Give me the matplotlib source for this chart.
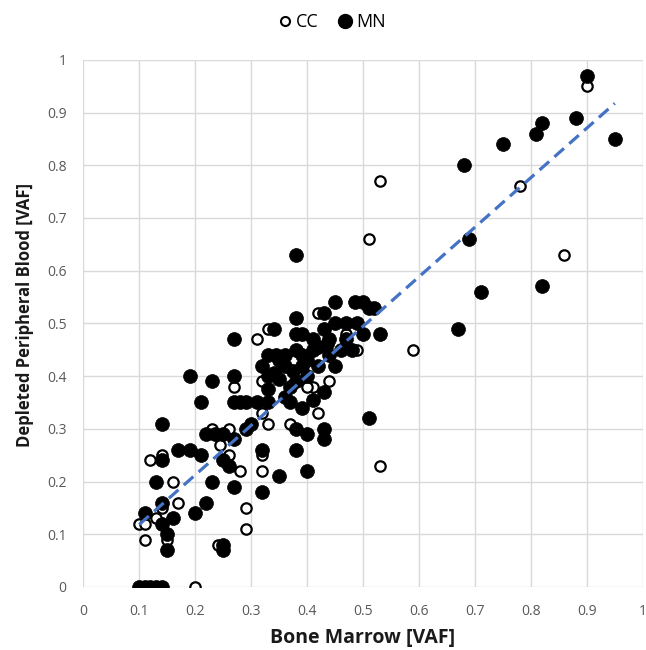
import numpy as np
import matplotlib
matplotlib.use("Agg")
import matplotlib.pyplot as plt
from matplotlib.lines import Line2D

plt.rcParams['font.family'] = ['Open Sans', 'DejaVu Sans']

# CC series (open markers)
cc_x = [0.10, 0.11, 0.11, 0.13, 0.12, 0.14, 0.14, 0.15, 0.16, 0.17, 0.20, 0.24,
        0.23, 0.26, 0.245, 0.26, 0.28, 0.29, 0.29, 0.27, 0.31, 0.32, 0.32, 0.33,
        0.32, 0.32, 0.33, 0.37, 0.41, 0.44, 0.42, 0.42, 0.47, 0.49, 0.40, 0.51,
        0.53, 0.53, 0.59, 0.78, 0.86, 0.90]
cc_y = [0.12, 0.12, 0.09, 0.13, 0.24, 0.25, 0.15, 0.09, 0.20, 0.16, 0.00, 0.08,
        0.30, 0.30, 0.27, 0.25, 0.22, 0.15, 0.11, 0.38, 0.47, 0.39, 0.33, 0.31,
        0.25, 0.22, 0.49, 0.31, 0.38, 0.39, 0.33, 0.52, 0.48, 0.45, 0.38, 0.66,
        0.77, 0.23, 0.45, 0.76, 0.63, 0.95]

# MN series (filled markers)
mn_x = [0.10, 0.11, 0.12, 0.13, 0.14,
        0.15, 0.15, 0.14, 0.16, 0.11, 0.14, 0.20, 0.22, 0.13, 0.23, 0.27, 0.25, 0.25,
        0.14, 0.14, 0.17, 0.19, 0.21, 0.25, 0.26, 0.22, 0.235, 0.25, 0.27, 0.29, 0.30,
        0.21, 0.19, 0.23, 0.27, 0.27, 0.27, 0.28, 0.29, 0.31, 0.33, 0.36, 0.37, 0.39,
        0.41, 0.32, 0.32, 0.35, 0.38, 0.40, 0.38, 0.40, 0.43, 0.43, 0.43, 0.51,
        0.32, 0.34, 0.35, 0.33, 0.345, 0.36, 0.375, 0.38, 0.37, 0.38, 0.39, 0.33,
        0.34, 0.38, 0.38, 0.39, 0.38, 0.33, 0.35, 0.36, 0.39, 0.40,
        0.42, 0.42, 0.435, 0.43, 0.43, 0.45, 0.47, 0.49, 0.50, 0.46, 0.48, 0.45,
        0.45, 0.485, 0.50, 0.51, 0.52, 0.53, 0.44, 0.41, 0.40, 0.41, 0.44, 0.47,
        0.67, 0.68, 0.69, 0.71, 0.75, 0.81, 0.82, 0.82, 0.88, 0.90, 0.95]
mn_y = [0.00, 0.00, 0.00, 0.00, 0.00,
        0.07, 0.10, 0.12, 0.13, 0.14, 0.16, 0.14, 0.16, 0.20, 0.20, 0.19, 0.08, 0.07,
        0.24, 0.31, 0.26, 0.26, 0.25, 0.24, 0.23, 0.29, 0.29, 0.29, 0.28, 0.30, 0.31,
        0.35, 0.40, 0.39, 0.40, 0.47, 0.35, 0.35, 0.35, 0.35, 0.35, 0.36, 0.35, 0.34,
        0.355, 0.26, 0.18, 0.21, 0.26, 0.22, 0.30, 0.29, 0.30, 0.28, 0.37, 0.32,
        0.42, 0.405, 0.395, 0.44, 0.44, 0.44, 0.41, 0.39, 0.38, 0.45, 0.44, 0.375,
        0.49, 0.48, 0.51, 0.48, 0.63, 0.40, 0.43, 0.42, 0.42, 0.40,
        0.42, 0.455, 0.46, 0.49, 0.52, 0.50, 0.50, 0.50, 0.48, 0.45, 0.45, 0.42,
        0.54, 0.54, 0.54, 0.53, 0.53, 0.48, 0.47, 0.47, 0.43, 0.45, 0.44, 0.47,
        0.49, 0.80, 0.66, 0.56, 0.84, 0.86, 0.88, 0.57, 0.89, 0.97, 0.85]

ticks = [0, 0.1, 0.2, 0.3, 0.4, 0.5, 0.6, 0.7, 0.8, 0.9, 1]
tick_labels = ["0", "0.1", "0.2", "0.3", "0.4", "0.5", "0.6", "0.7", "0.8", "0.9", "1"]

fig = plt.figure(figsize=(6.46, 6.50), dpi=100)
ax = fig.add_axes([0.129, 0.097, 0.866, 0.811])

ax.scatter(cc_x, cc_y, s=56, facecolor='white', edgecolor='black', linewidth=1.6, zorder=3)
ax.scatter(mn_x, mn_y, s=100, facecolor='black', edgecolor='black', linewidth=0.5, zorder=4)

# linear trendline over all points
all_x = np.array(cc_x + mn_x)
all_y = np.array(cc_y + mn_y)
k, b = np.polyfit(all_x, all_y, 1)
tx = np.array([all_x.min(), all_x.max()])
ax.plot(tx, k * tx + b, color='#4472C4', lw=2.3, dashes=(4, 2.2), solid_capstyle='butt',
        dash_capstyle='butt', zorder=5)

ax.set_xlim(0, 1)
ax.set_ylim(0, 1)
ax.set_xticks(ticks)
ax.set_xticklabels(tick_labels)
ax.set_yticks(ticks)
ax.set_yticklabels(tick_labels)
ax.grid(True, color='#d9d9d9', lw=1.0, zorder=0)
ax.set_axisbelow(True)
for s in ax.spines.values():
    s.set_visible(False)
ax.tick_params(length=0, labelsize=10, labelcolor='#595959')
ax.tick_params(axis='x', pad=12)
ax.tick_params(axis='y', pad=12)

ax.set_xlabel("Bone Marrow [VAF]", fontsize=14, fontweight='bold', color='#1a1a1a', labelpad=7)
ax.set_ylabel("Depleted Peripheral Blood [VAF]", fontsize=12, fontweight='bold', color='#1a1a1a')
ax.yaxis.set_label_coords(-0.088, 0.515)

handles = [Line2D([], [], marker='o', ls='none', markersize=6.5, markerfacecolor='white',
                  markeredgecolor='black', markeredgewidth=1.5),
           Line2D([], [], marker='o', ls='none', markersize=10, markerfacecolor='black',
                  markeredgecolor='black')]
fig.legend(handles, ["CC", "MN"], loc='upper center', bbox_to_anchor=(0.512, 1.005), ncol=2,
           frameon=False, fontsize=13, handletextpad=0.1, columnspacing=1.0, handlelength=1.0)

fig.savefig("out.png", dpi=100, facecolor='white')
